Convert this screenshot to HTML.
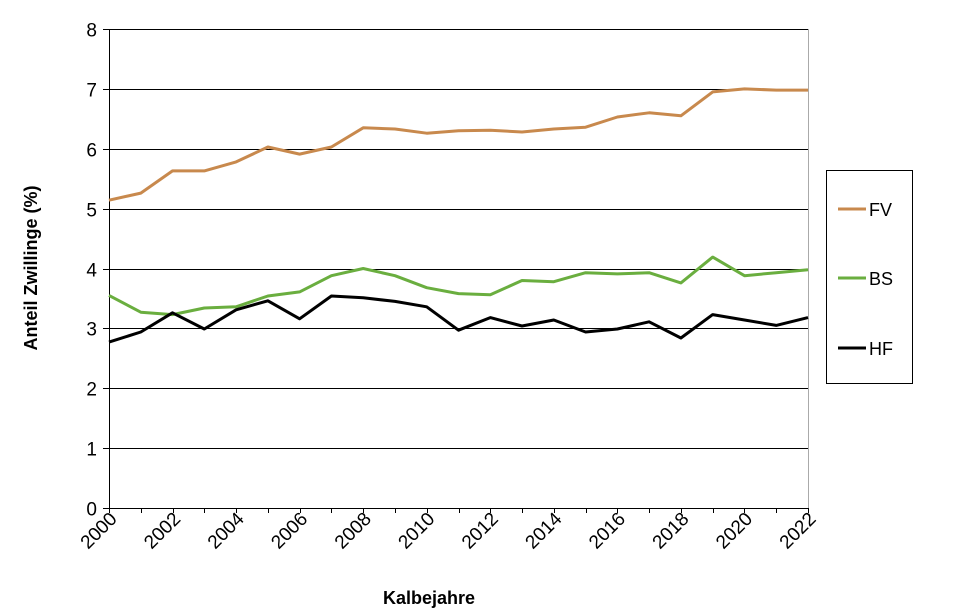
<!DOCTYPE html>
<html><head><meta charset="utf-8"><style>
body{margin:0;background:#fff;font-family:"Liberation Sans",Arial,sans-serif}
svg text{font-family:"Liberation Sans",Arial,sans-serif}
</style></head><body>
<svg id="chart" width="958" height="610" xmlns="http://www.w3.org/2000/svg">
<g id="grid"></g>
<g id="axes"></g>
<g id="series"></g>
<text transform="translate(37,268) rotate(-90)" text-anchor="middle" font-size="18" font-weight="bold">Anteil Zwillinge (%)</text>
<text x="429" y="604" text-anchor="middle" font-size="18" font-weight="bold">Kalbejahre</text>
<g>
<rect x="826.5" y="170.5" width="86" height="213" fill="#fff" stroke="#000" stroke-width="1"/>
<line x1="838" y1="209" x2="866" y2="209" stroke="#c8894d" stroke-width="3"/>
<text x="869" y="216" font-size="18">FV</text>
<line x1="838" y1="278" x2="866" y2="278" stroke="#6aae3f" stroke-width="3"/>
<text x="869" y="285" font-size="18">BS</text>
<line x1="838" y1="348" x2="866" y2="348" stroke="#000" stroke-width="3"/>
<text x="869" y="355" font-size="18">HF</text>
</g>
</svg>
<script>
const years = [2000,2001,2002,2003,2004,2005,2006,2007,2008,2009,2010,2011,2012,2013,2014,2015,2016,2017,2018,2019,2020,2021,2022];
const fvValues = [5.14,5.26,5.63,5.63,5.78,6.03,5.91,6.03,6.35,6.33,6.26,6.30,6.31,6.28,6.33,6.36,6.53,6.60,6.55,6.95,7.00,6.98,6.98];
const bsValues = [3.55,3.27,3.23,3.34,3.36,3.54,3.61,3.88,4.00,3.88,3.68,3.58,3.56,3.80,3.78,3.93,3.91,3.93,3.76,4.19,3.88,3.93,3.98];
const hfValues = [2.77,2.94,3.26,2.99,3.31,3.46,3.16,3.54,3.51,3.45,3.36,2.97,3.18,3.04,3.14,2.94,2.99,3.11,2.84,3.23,3.14,3.05,3.18];
const yTicks = [0,1,2,3,4,5,6,7,8];
const xTickLabels = [2000,2002,2004,2006,2008,2010,2012,2014,2016,2018,2020,2022];

const NS = "http://www.w3.org/2000/svg";
const X0 = 109, X1 = 808, Y0 = 508, Y1 = 29;
const xScale = y => X0 + (y - years[0]) / (years[years.length-1] - years[0]) * (X1 - X0);
const yScale = v => Y0 - v / 8 * (Y0 - Y1);
function mk(tag, attrs, parent) {
  const e = document.createElementNS(NS, tag);
  for (const k in attrs) e.setAttribute(k, attrs[k]);
  parent.appendChild(e);
  return e;
}
const grid = document.getElementById('grid');
const axes = document.getElementById('axes');
const series = document.getElementById('series');

yTicks.forEach(t => {
  const y = Math.round(yScale(t)) + 0.5;
  if (t > 0) {
    const g = mk('line', {x1: X0, x2: X1, y1: y, y2: y, stroke: '#000', 'stroke-width': 1}, grid);
    
    
  }
  const tk = mk('line', {x1: X0 - 6, x2: X0, y1: y, y2: y, stroke: '#000'}, axes);
  
  
  const lb = mk('text', {x: X0 - 12, y: y + 7, 'text-anchor': 'end', 'font-size': 19}, axes);
  lb.textContent = t;
  
  
});
years.forEach(yr => {
  const x = Math.round(xScale(yr)) + 0.5;
  const tk = mk('line', {x1: x, x2: x, y1: Y0, y2: Y0 + 5, stroke: '#000'}, axes);
  
  
});
const yAxis = mk('line', {x1: X0 + 0.5, x2: X0 + 0.5, y1: Y1, y2: Y0, stroke: '#000'}, axes);


const rAxis = mk('line', {x1: X1 + 0.5, x2: X1 + 0.5, y1: Y1, y2: Y0, stroke: '#aaa'}, axes);


const xAxis = mk('line', {x1: X0, x2: X1, y1: Y0 + 0.5, y2: Y0 + 0.5, stroke: '#000'}, axes);


xTickLabels.forEach(yr => {
  const x = xScale(yr);
  const lb = mk('text', {transform: `translate(${x + 9},${Y0 + 12}) rotate(-45)`, 'text-anchor': 'end', 'font-size': 19}, axes);
  lb.textContent = yr;
  
  
});
function drawLine(vals, color, name) {
  const pts = vals.map((v, i) => xScale(years[i]).toFixed(1) + ',' + yScale(v).toFixed(1)).join(' ');
  const p = mk('polyline', {points: pts, fill: 'none', stroke: color, 'stroke-width': 3, 'stroke-linejoin': 'round'}, series);
  
  
}
drawLine(fvValues, '#c8894d', 'line-fv');
drawLine(bsValues, '#6aae3f', 'line-bs');
drawLine(hfValues, '#000000', 'line-hf');
</script>
</body></html>
